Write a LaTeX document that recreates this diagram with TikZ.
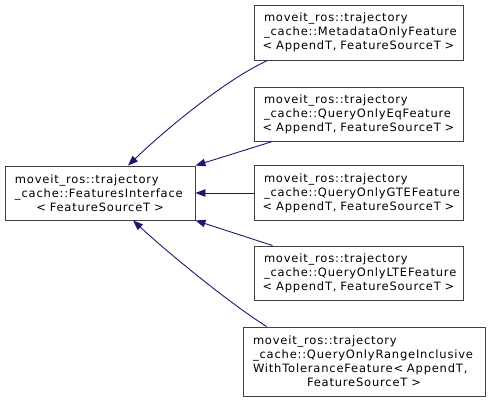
\documentclass[tikz,border=0pt]{standalone}
\usepackage{fontspec}
\setmainfont{DejaVu Sans}[LetterSpace=7]
\usetikzlibrary{arrows.meta}
\definecolor{edgeblue}{HTML}{191970}
\begin{document}
\begin{tikzpicture}[x=1pt,y=-1pt,
    cls/.style={draw=black!75,line width=0.9pt,fill=white,inner xsep=10pt,inner ysep=0pt,
        align=left,font=\fontsize{11.5}{14}\selectfont},
    inh/.style={draw=edgeblue,line width=0.9pt,-{Triangle[length=10pt,width=7.5pt]}}]
    \useasboundingbox (0,0) rectangle (491,402);
    % base class
    \node[cls,text width=170pt,minimum height=54pt] (base) at (100,193)
        {moveit\_ros::trajectory\\\_cache::FeaturesInterface\\\makebox[\linewidth]{< FeatureSourceT >}};
    % derived features
    \node[cls,text width=189pt,minimum height=55pt] (meta) at (358.5,32.5)
        {moveit\_ros::trajectory\\\_cache::MetadataOnlyFeature\\\makebox[\linewidth]{< AppendT, FeatureSourceT >}};
    \node[cls,text width=189pt,minimum height=54pt] (eq) at (358.5,114)
        {moveit\_ros::trajectory\\\_cache::QueryOnlyEqFeature\\\makebox[\linewidth]{< AppendT, FeatureSourceT >}};
    \node[cls,text width=189pt,minimum height=55pt] (gte) at (358.5,193)
        {moveit\_ros::trajectory\\\_cache::QueryOnlyGTEFeature\\\makebox[\linewidth]{< AppendT, FeatureSourceT >}};
    \node[cls,text width=189pt,minimum height=54pt] (lte) at (358.5,273)
        {moveit\_ros::trajectory\\\_cache::QueryOnlyLTEFeature\\\makebox[\linewidth]{< AppendT, FeatureSourceT >}};
    \node[cls,text width=222pt,minimum height=69pt] (range) at (364,361.5)
        {moveit\_ros::trajectory\\\_cache::QueryOnlyRangeInclusive\\WithToleranceFeature< AppendT,\\\makebox[\linewidth]{FeatureSourceT >}};
    % inheritance arrows
    \draw[inh] ([xshift=14pt]meta.south west) .. controls (225,80) and (165,130) .. ([xshift=28pt]base.north);
    \draw[inh] ([xshift=19pt]eq.south west) -- (base.north east);
    \draw[inh] (gte.west) -- (base.east);
    \draw[inh] ([xshift=19pt]lte.north west) -- (base.south east);
    \draw[inh] ([xshift=24pt]range.north west) .. controls (225,300) and (165,250) .. ([xshift=33pt]base.south);
\end{tikzpicture}
\end{document}
